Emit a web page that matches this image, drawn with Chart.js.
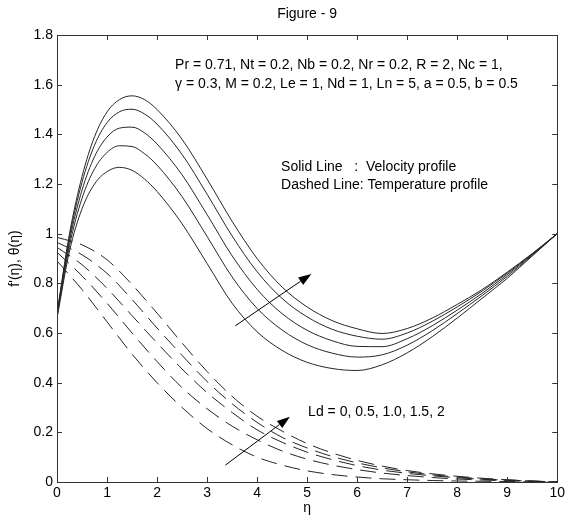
<!DOCTYPE html>
<html>
<head>
<meta charset="utf-8">
<script src="https://cdn.jsdelivr.net/npm/chart.js@4"></script>
<style>
  html, body { margin: 0; padding: 0; background: #fff; }
  #wrap { width: 568px; height: 520px; }
</style>
</head>
<body>
<div id="wrap"><canvas id="fig"></canvas></div>
<script>
// eta grids
const etaSolid = [0, 0.25, 0.5, 0.75, 1, 1.25, 1.5, 1.75, 2, 2.5, 3, 3.5, 4, 4.5, 5, 5.5, 6, 6.5, 7, 7.5, 8, 8.5, 9, 9.5, 10];
const etaDashed = [0, 0.5, 1, 1.5, 2, 2.5, 3, 3.5, 4, 4.5, 5, 5.5, 6, 6.5, 7, 7.5, 8, 8.5, 9, 9.5, 10];

const ldValues = ["0", "0.5", "1.0", "1.5", "2"];

// velocity profile f'(eta), Ld = 0 .. 2
const velLd0  = [0.66, 0.93, 1.10, 1.20, 1.25, 1.267, 1.255, 1.22, 1.17, 1.04, 0.88, 0.72, 0.605, 0.53, 0.482, 0.457, 0.449, 0.472, 0.52, 0.585, 0.66, 0.74, 0.82, 0.91, 1.0];
const velLd05 = [0.666, 0.952, 1.142, 1.261, 1.327, 1.354, 1.351, 1.322, 1.276, 1.149, 0.989, 0.826, 0.699, 0.612, 0.553, 0.519, 0.503, 0.512, 0.551, 0.609, 0.678, 0.751, 0.828, 0.913, 1.0];
const velLd1  = [0.672, 0.971, 1.175, 1.310, 1.389, 1.425, 1.429, 1.406, 1.361, 1.237, 1.077, 0.911, 0.776, 0.678, 0.611, 0.569, 0.546, 0.545, 0.577, 0.629, 0.692, 0.760, 0.835, 0.916, 1.0];
const velLd15 = [0.676, 0.987, 1.207, 1.356, 1.447, 1.491, 1.501, 1.482, 1.441, 1.319, 1.159, 0.991, 0.847, 0.739, 0.665, 0.615, 0.587, 0.575, 0.600, 0.647, 0.705, 0.769, 0.841, 0.918, 1.0];
const velLd2  = [0.68, 1.00, 1.23, 1.39, 1.49, 1.54, 1.555, 1.54, 1.50, 1.38, 1.22, 1.05, 0.90, 0.785, 0.705, 0.65, 0.617, 0.598, 0.618, 0.66, 0.715, 0.775, 0.845, 0.92, 1.0];

// temperature profile theta(eta), Ld = 0 .. 2
const tempLd0  = [0.89, 0.775, 0.645, 0.515, 0.40, 0.30, 0.215, 0.15, 0.10, 0.068, 0.045, 0.03, 0.02, 0.013, 0.009, 0.006, 0.004, 0.003, 0.002, 0.001, 0];
const tempLd05 = [0.925, 0.83, 0.72, 0.60, 0.485, 0.38, 0.295, 0.225, 0.17, 0.125, 0.092, 0.068, 0.05, 0.036, 0.026, 0.018, 0.012, 0.008, 0.005, 0.002, 0];
const tempLd1  = [0.945, 0.875, 0.78, 0.67, 0.56, 0.455, 0.36, 0.28, 0.21, 0.16, 0.12, 0.09, 0.066, 0.048, 0.035, 0.025, 0.017, 0.011, 0.007, 0.003, 0];
const tempLd15 = [0.965, 0.915, 0.84, 0.735, 0.62, 0.51, 0.405, 0.315, 0.24, 0.18, 0.137, 0.103, 0.077, 0.057, 0.041, 0.029, 0.02, 0.013, 0.008, 0.004, 0];
const tempLd2  = [0.985, 0.955, 0.895, 0.795, 0.68, 0.56, 0.445, 0.345, 0.265, 0.205, 0.155, 0.117, 0.087, 0.064, 0.046, 0.033, 0.023, 0.015, 0.009, 0.004, 0];

const xTicks = [0, 1, 2, 3, 4, 5, 6, 7, 8, 9, 10];
const yTicks = [0, 0.2, 0.4, 0.6, 0.8, 1, 1.2, 1.4, 1.6, 1.8];

const FONT = '"Liberation Sans", Arial, sans-serif';
const LINE = "#262626";

function pts(xs, ys) {
  return xs.map((x, i) => ({ x: x, y: ys[i] }));
}

const velocity = [velLd0, velLd05, velLd1, velLd15, velLd2];
const temperature = [tempLd0, tempLd05, tempLd1, tempLd15, tempLd2];

const datasets = [];
velocity.forEach((v, i) => {
  datasets.push({
    label: "f' Ld=" + ldValues[i],
    data: pts(etaSolid, v),
    borderColor: LINE,
    borderWidth: 1,
    pointRadius: 0,
    showLine: true,
    cubicInterpolationMode: "monotone"
  });
});
temperature.forEach((t, i) => {
  datasets.push({
    label: "theta Ld=" + ldValues[i],
    data: pts(etaDashed, t),
    borderColor: LINE,
    borderWidth: 1,
    borderDash: [16, 8],
    pointRadius: 0,
    showLine: true,
    cubicInterpolationMode: "monotone"
  });
});

// MATLAB style box, inward ticks, texts and arrows
const figureDecor = {
  id: "figureDecor",
  afterDraw(c) {
    const ctx = c.ctx;
    const a = c.chartArea;
    const xs = c.scales.x, ys = c.scales.y;
    ctx.save();
    ctx.strokeStyle = "#333";
    ctx.lineWidth = 1;
    ctx.strokeRect(Math.round(a.left) + 0.5, Math.round(a.top) + 0.5,
      Math.round(a.right - a.left), Math.round(a.bottom - a.top));

    ctx.beginPath();
    xTicks.forEach(v => {
      const px = Math.round(xs.getPixelForValue(v)) + 0.5;
      ctx.moveTo(px, a.bottom); ctx.lineTo(px, a.bottom - 5);
      ctx.moveTo(px, a.top); ctx.lineTo(px, a.top + 5);
    });
    yTicks.forEach(v => {
      const py = Math.round(ys.getPixelForValue(v)) + 0.5;
      ctx.moveTo(a.left, py); ctx.lineTo(a.left + 5, py);
      ctx.moveTo(a.right, py); ctx.lineTo(a.right - 5, py);
    });
    ctx.stroke();

    ctx.fillStyle = "#000";
    ctx.font = "14px " + FONT;
    ctx.textBaseline = "middle";

    // title
    ctx.textAlign = "center";
    ctx.fillText("Figure - 9", (a.left + a.right) / 2, 14);
    // x axis label
    ctx.fillText("η", (a.left + a.right) / 2, 508);
    // y axis label
    ctx.save();
    ctx.translate(15, (a.top + a.bottom) / 2);
    ctx.rotate(-Math.PI / 2);
    ctx.fillText("f'(η), θ(η)", 0, 0);
    ctx.restore();

    // annotations
    ctx.textAlign = "left";
    const txt = (s, x, y) => ctx.fillText(s, xs.getPixelForValue(x), ys.getPixelForValue(y));
    txt("Pr = 0.71, Nt = 0.2, Nb = 0.2, Nr = 0.2, R = 2, Nc = 1,", 2.36, 1.677);
    txt("γ = 0.3, M = 0.2, Le = 1, Nd = 1, Ln = 5, a = 0.5, b = 0.5", 2.36, 1.603);
    txt("Solid Line   :  Velocity profile", 4.48, 1.269);
    txt("Dashed Line: Temperature profile", 4.48, 1.196);
    txt("Ld = 0, 0.5, 1.0, 1.5, 2", 5.02, 0.282);

    // arrows
    const arrow = (x0, y0, x1, y1) => {
      const p0x = xs.getPixelForValue(x0), p0y = ys.getPixelForValue(y0);
      const p1x = xs.getPixelForValue(x1), p1y = ys.getPixelForValue(y1);
      const ang = Math.atan2(p1y - p0y, p1x - p0x);
      const hl = 13, hw = 4.5;
      const bx = p1x - hl * Math.cos(ang), by = p1y - hl * Math.sin(ang);
      ctx.beginPath();
      ctx.moveTo(p0x, p0y); ctx.lineTo(bx, by);
      ctx.strokeStyle = "#000";
      ctx.stroke();
      ctx.beginPath();
      ctx.moveTo(p1x, p1y);
      ctx.lineTo(bx + hw * Math.sin(ang), by - hw * Math.cos(ang));
      ctx.lineTo(bx - hw * Math.sin(ang), by + hw * Math.cos(ang));
      ctx.closePath();
      ctx.fill();
    };
    arrow(3.565, 0.629, 5.085, 0.838);
    arrow(3.367, 0.068, 4.657, 0.263);
    ctx.restore();
  }
};

const tickFmt = v => String(Math.round(v * 10) / 10);

new Chart(document.getElementById("fig"), {
  type: "scatter",
  data: { datasets: datasets },
  options: {
    responsive: true,
    maintainAspectRatio: false,
    animation: false,
    layout: { padding: { left: 0, right: 7, top: 35, bottom: 0 } },
    plugins: {
      legend: { display: false },
      tooltip: { enabled: false }
    },
    scales: {
      x: {
        type: "linear",
        min: 0, max: 10,
        grid: { display: false, drawTicks: false, tickLength: 0 },
        border: { display: false },
        afterBuildTicks: s => { s.ticks = xTicks.map(v => ({ value: v })); },
        afterFit: s => { s.height = 38; },
        ticks: { padding: 3, color: "#000", font: { family: FONT, size: 14 }, callback: tickFmt }
      },
      y: {
        type: "linear",
        min: 0, max: 1.8,
        grid: { display: false, drawTicks: false, tickLength: 0 },
        border: { display: false },
        afterBuildTicks: s => { s.ticks = yTicks.map(v => ({ value: v })); },
        afterFit: s => { s.width = 57; },
        ticks: { padding: 4, color: "#000", font: { family: FONT, size: 14 }, callback: tickFmt }
      }
    }
  },
  plugins: [figureDecor]
});
</script>
</body>
</html>
